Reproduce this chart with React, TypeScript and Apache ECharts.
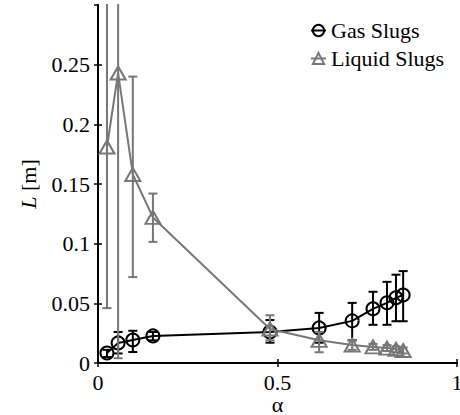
import React, { useEffect, useRef } from "react";
import * as echarts from "echarts";

const alpha = [0.025, 0.056, 0.097, 0.153, 0.479, 0.616, 0.708, 0.766, 0.805, 0.83, 0.85];
const gasL = [0.0084, 0.0168, 0.0193, 0.0227, 0.026, 0.0294, 0.0353, 0.0454, 0.0504, 0.0546, 0.057];
const gasLow = [0.005, 0.008, 0.0092, 0.019, 0.017, 0.017, 0.019, 0.032, 0.032, 0.035, 0.035];
const gasHigh = [0.011, 0.026, 0.027, 0.026, 0.036, 0.042, 0.0504, 0.0597, 0.068, 0.074, 0.077];
const liqL = [0.181, 0.243, 0.158, 0.122, 0.0285, 0.019, 0.015, 0.0135, 0.0125, 0.0115, 0.0105];
const liqLow = [0.046, 0.004, 0.072, 0.1015, 0.019, 0.009, 0.011, 0.011, 0.01, 0.009, 0.008];
const liqHigh = [0.4, 0.5, 0.24, 0.142, 0.04, 0.026, 0.019, 0.016, 0.015, 0.014, 0.013];

const yMax = 0.3;
const FONT = "Liberation Serif";
const GAS = "#000000";
const LIQ = "#777777";

const txt = { fontFamily: FONT, fontSize: 22, color: "#000" };

function errorSeries(name: string, lows: number[], highs: number[], color: string, z: number) {
  const data: any[] = [];
  alpha.forEach((a, i) => {
    data.push([a, lows[i]], [a, highs[i]], "-");
  });
  return {
    type: "line",
    name: name + " err",
    z,
    clip: true,
    connectNulls: false,
    showAllSymbol: true,
    symbol: "rect",
    symbolSize: [9, 2],
    data,
    lineStyle: { color, width: 2 },
    itemStyle: { color, borderWidth: 0 },
    emphasis: { disabled: true },
  };
}

export default function App() {
  const ref = useRef<HTMLDivElement>(null);
  useEffect(() => {
    if (!ref.current) return;
    const chart = echarts.init(ref.current, null, { renderer: "svg" });
    const tick = { inside: true, length: 4, lineStyle: { color: "#000", width: 1.5 } };
    const line = { lineStyle: { color: "#000", width: 2 } };
    chart.setOption({
      animation: false,
      textStyle: { fontFamily: FONT },
      grid: { left: 98, right: 3, top: 5, bottom: 52, containLabel: false, outerBoundsMode: "none" },
      legend: {
        orient: "vertical",
        left: 305,
        top: 14,
        itemWidth: 15,
        itemHeight: 14,
        itemGap: 5,
        textStyle: { ...txt, lineHeight: 23 },
        data: ["Gas Slugs", "Liquid Slugs"],
      },
      xAxis: [
        {
          type: "value",
          min: 0,
          max: 1,
          interval: 0.5,
          position: "bottom",
          axisLine: line,
          axisTick: tick,
          splitLine: { show: false },
          axisLabel: { ...txt, margin: 8, formatter: (v: number) => String(v) },
          name: "α",
          nameLocation: "middle",
          nameGap: 30,
          nameMoveOverlap: false,
          nameTextStyle: { ...txt },
        },
        {
          type: "value",
          min: 0,
          max: 1,
          interval: 0.5,
          position: "top",
          axisLine: line,
          axisTick: tick,
          splitLine: { show: false },
          axisLabel: { show: false },
        },
      ],
      yAxis: [
        {
          type: "value",
          min: 0,
          max: yMax,
          interval: 0.05,
          position: "left",
          axisLine: line,
          axisTick: tick,
          splitLine: { show: false },
          axisLabel: {
            ...txt,
            margin: 8,
            showMaxLabel: false,
            formatter: (v: number) => String(+v.toFixed(2)),
          },
          name: "{i|L}{t| [m]}",
          nameLocation: "middle",
          nameGap: 59,
          nameMoveOverlap: false,
          nameRotate: 90,
          nameTextStyle: {
            fontFamily: FONT,
            fontSize: 22,
            color: "#000",
            rich: {
              i: { fontStyle: "italic", fontFamily: FONT, fontSize: 22, color: "#000" },
              t: { fontFamily: FONT, fontSize: 22, color: "#000" },
            },
          },
        },
        {
          type: "value",
          min: 0,
          max: yMax,
          interval: 0.05,
          position: "right",
          axisLine: line,
          axisTick: tick,
          splitLine: { show: false },
          axisLabel: { show: false },
        },
      ],
      series: [
        errorSeries("Gas Slugs", gasLow, gasHigh, GAS, 2),
        {
          type: "line",
          name: "Gas Slugs",
          z: 3,
          data: alpha.map((a, i) => [a, gasL[i]]),
          symbol: "circle",
          symbolSize: 13,
          lineStyle: { color: GAS, width: 2 },
          itemStyle: { color: "rgba(0,0,0,0)", borderColor: GAS, borderWidth: 2 },
        },
        errorSeries("Liquid Slugs", liqLow, liqHigh, LIQ, 4),
        {
          type: "line",
          name: "Liquid Slugs",
          z: 5,
          data: alpha.map((a, i) => [a, liqL[i]]),
          symbol: "triangle",
          symbolSize: [15, 13],
          lineStyle: { color: LIQ, width: 2 },
          itemStyle: { color: "rgba(0,0,0,0)", borderColor: LIQ, borderWidth: 2 },
        },
      ],
    });
    return () => chart.dispose();
  }, []);
  return <div ref={ref} style={{ width: 460, height: 415, position: "absolute", left: 0, top: 0 }} />;
}
